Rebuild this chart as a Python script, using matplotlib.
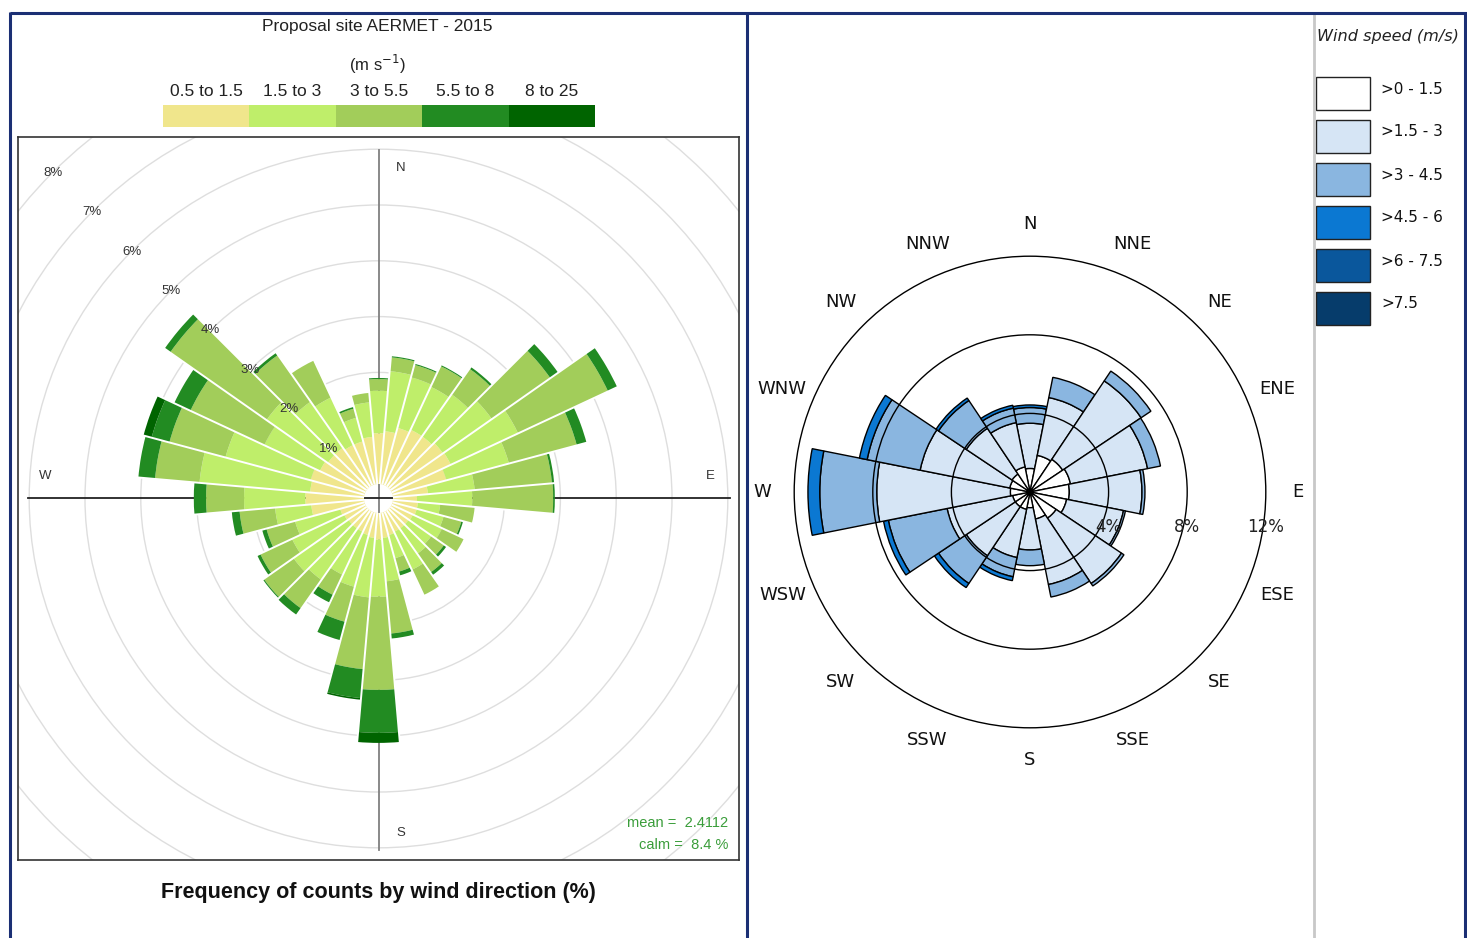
import math
import matplotlib
matplotlib.use("Agg")
import matplotlib.pyplot as plt
from matplotlib.patches import Wedge, Rectangle, Circle
from matplotlib.lines import Line2D

# ---------------- data ----------------
# Left rose: 36 sectors, frequency (%) per speed class
dir36 = list(range(10, 370, 10))
classes36 = ["0.5 to 1.5", "1.5 to 3", "3 to 5.5", "5.5 to 8", "8 to 25"]
colors36 = ["#F0E68C", "#BFEE6A", "#A2CD5A", "#228B22", "#006400"]
f_05_15 = [0.95, 1.05, 1.10, 1.10, 1.15, 1.17, 1.00, 0.63, 0.43, 0.45, 0.45, 0.42,
           0.40, 0.40, 0.40, 0.42, 0.45, 0.48, 0.45, 0.42, 0.40, 0.40, 0.40, 0.42,
           0.45, 0.95, 1.05, 0.97, 1.00, 0.90, 0.85, 0.85, 0.80, 0.80, 0.85, 0.91]
f_15_3 = [1.08, 0.94, 0.85, 0.92, 1.07, 1.33, 1.16, 0.84, 0.99, 0.40, 0.50, 0.58,
          0.50, 0.55, 0.75, 0.43, 0.78, 1.02, 1.07, 0.96, 0.85, 1.12, 1.20, 1.03,
          0.84, 0.65, 1.10, 1.99, 1.58, 1.10, 1.34, 1.01, 0.94, 0.44, 0.62, 0.76]
f_3_55 = [0.25, 0.23, 0.41, 0.56, 1.28, 1.78, 1.26, 1.39, 1.45, 0.62, 0.33, 0.43,
          0.28, 0.41, 0.50, 0.25, 0.94, 1.67, 1.29, 0.65, 0.40, 0.63, 0.65, 0.63,
          0.53, 0.64, 0.68, 0.80, 1.04, 1.46, 2.11, 1.02, 0.73, 0.17, 0.17, 0.21]
f_55_8 = [0.02, 0.02, 0.02, 0.04, 0.17, 0.18, 0.18, 0.04, 0.03, 0.00, 0.03, 0.00,
          0.05, 0.06, 0.00, 0.07, 0.09, 0.77, 0.52, 0.34, 0.15, 0.14, 0.02, 0.06,
          0.08, 0.14, 0.22, 0.30, 0.33, 0.32, 0.12, 0.05, 0.00, 0.03, 0.00, 0.02]
f_8_25 = [0.00, 0.00, 0.00, 0.00, 0.00, 0.00, 0.00, 0.00, 0.00, 0.00, 0.00, 0.00,
          0.00, 0.00, 0.00, 0.00, 0.00, 0.18, 0.03, 0.00, 0.00, 0.00, 0.00, 0.00,
          0.00, 0.00, 0.00, 0.00, 0.15, 0.00, 0.00, 0.00, 0.00, 0.00, 0.00, 0.00]
mean_speed = 2.4112
calm_pct = 8.4
ring_pcts36 = [1, 2, 3, 4, 5, 6, 7, 8]

# Right rose: 16 sectors, frequency (%) per speed class
dir16 = ["N", "NNE", "NE", "ENE", "E", "ESE", "SE", "SSE",
         "S", "SSW", "SW", "WSW", "W", "WNW", "NW", "NNW"]
classes16 = [">0 - 1.5", ">1.5 - 3", ">3 - 4.5", ">4.5 - 6", ">6 - 7.5", ">7.5"]
colors16 = ["#FFFFFF", "#D6E5F5", "#8AB6E0", "#0B78D2", "#0A579C", "#063C6B"]
b_0_15 = [1.20, 1.90, 2.00, 2.10, 2.00, 1.90, 1.60, 1.40,
          0.80, 0.90, 0.90, 0.90, 1.00, 1.05, 1.10, 1.30]
b_15_3 = [2.30, 3.00, 4.80, 4.00, 3.70, 2.95, 4.00, 3.40,
          2.15, 2.50, 3.00, 3.40, 6.80, 4.65, 2.80, 2.30]
b_3_45 = [0.80, 1.05, 0.60, 0.67, 0.15, 0.10, 0.15, 0.65,
          0.80, 1.00, 1.70, 3.05, 2.90, 2.75, 1.70, 0.75]
b_45_6 = [0.13, 0.00, 0.00, 0.00, 0.00, 0.00, 0.00, 0.00,
          0.00, 0.20, 0.25, 0.25, 0.60, 0.40, 0.15, 0.15]
b_6_75 = [0.0] * 16
b_75 = [0.0] * 16
ring_pcts16 = [4, 8, 12]

# ---------------- figure ----------------
W_PX, H_PX = 1467, 938
fig = plt.figure(figsize=(W_PX / 100, H_PX / 100), dpi=100)
FONT_L = ["Liberation Sans", "DejaVu Sans"]
FONT_R = ["DejaVu Sans"]


def fx(px):
    return px / W_PX


def fy(py):
    return 1 - py / H_PX


def add_axes_px(x0, y0, x1, y1):
    return fig.add_axes([fx(x0), fy(y1), fx(x1) - fx(x0), fy(y0) - fy(y1)])


# ---------------- left rose ----------------
L_BOX = (18, 137, 739, 860)
L_CX, L_CY = 378.5, 498.5
L_SCALE = 55.8          # px per percent
hole = 0.26             # radius of the calm circle, in percent units

ax1 = add_axes_px(*L_BOX)
ax1.set_xlim((L_BOX[0] - L_CX) / L_SCALE, (L_BOX[2] - L_CX) / L_SCALE)
ax1.set_ylim((L_CY - L_BOX[3]) / L_SCALE, (L_CY - L_BOX[1]) / L_SCALE)
ax1.set_xticks([])
ax1.set_yticks([])
for sp in ax1.spines.values():
    sp.set_color("#333333")
    sp.set_linewidth(1.2)

for k in ring_pcts36:
    ax1.add_patch(Circle((0, 0), hole + k, fill=False, ec="#dedede", lw=1.0, zorder=1))

ax1.plot([0, 0], [-6.3, 6.25], color="#808080", lw=1.3, zorder=1)
ax1.plot([-6.28, 6.3], [0, 0], color="#222222", lw=1.3, zorder=1)

series36 = [f_05_15, f_15_3, f_3_55, f_55_8, f_8_25]
totals36 = []
for i, d in enumerate(dir36):
    base = hole
    for vals, col in zip(series36, colors36):
        v = vals[i]
        if v > 0:
            ax1.add_patch(Wedge((0, 0), base + v, 90 - d - 5, 90 - d + 5, width=v,
                                fc=col, ec="none", zorder=2))
        base += v
    totals36.append(base)

# thin white gaps between neighbouring sectors
for i, d in enumerate(dir36):
    j = (i + 1) % len(dir36)
    ang = math.radians(90 - (d + 5))
    r_end = max(totals36[i], totals36[j]) + 0.03
    ax1.plot([hole * math.cos(ang), r_end * math.cos(ang)],
             [hole * math.sin(ang), r_end * math.sin(ang)],
             color="white", lw=1.4, zorder=3, solid_capstyle="butt")

for k in ring_pcts36:
    r = hole + k
    a = math.radians(135)
    ax1.text(r * math.cos(a), r * math.sin(a), f"{k}%", fontsize=9.5,
             family=FONT_L, color="#333333", ha="center", va="center", zorder=4)

for lab, (x, y) in zip(["N", "S", "W", "E"],
                       [(0.40, 5.92), (0.40, -5.99), (-5.98, 0.40), (5.94, 0.40)]):
    ax1.text(x, y, lab, fontsize=9.5, family=FONT_L, color="#333333",
             ha="center", va="center")

fig.text(fx(728), fy(823), f"mean =  {mean_speed}", fontsize=10.5, family=FONT_L,
         color="#3A9D3A", ha="right", va="center")
fig.text(fx(728), fy(845), f"calm =  {calm_pct} %", fontsize=10.5, family=FONT_L,
         color="#3A9D3A", ha="right", va="center")

# title and colour key
fig.text(fx(377), fy(27), "Proposal site AERMET - 2015", fontsize=12.5, family=FONT_L,
         color="#222222", ha="center", va="center")
fig.text(fx(377), fy(64), r"(m s$^{-1}$)", fontsize=12, family=FONT_L,
         color="#222222", ha="center", va="center")
key_x0, key_w = 163, 86.4
for i, (lab, col) in enumerate(zip(classes36, colors36)):
    x0 = key_x0 + i * key_w
    fig.add_artist(Rectangle((fx(x0), fy(127)), fx(key_w), fy(105) - fy(127),
                             transform=fig.transFigure, fc=col, ec="none"))
    fig.text(fx(x0 + key_w / 2), fy(91), lab, fontsize=12.5, family=FONT_L,
             color="#222222", ha="center", va="center")

fig.text(fx(378), fy(892), "Frequency of counts by wind direction (%)", fontsize=15.5,
         family=FONT_L, weight="bold", color="#111111", ha="center", va="center")

# ---------------- right rose ----------------
R_CX, R_CY = 1030, 492
R_SCALE = 19.65
R_BOX = (750, 14, 1310, 938)
ax2 = add_axes_px(*R_BOX)
ax2.set_xlim((R_BOX[0] - R_CX) / R_SCALE, (R_BOX[2] - R_CX) / R_SCALE)
ax2.set_ylim((R_CY - R_BOX[3]) / R_SCALE, (R_CY - R_BOX[1]) / R_SCALE)
ax2.axis("off")

series16 = [b_0_15, b_15_3, b_3_45, b_45_6, b_6_75, b_75]
for i, name in enumerate(dir16):
    d = i * 22.5
    base = 0.0
    for vals, col in zip(series16, colors16):
        v = vals[i]
        if v > 0:
            ax2.add_patch(Wedge((0, 0), base + v, 90 - d - 11.25, 90 - d + 11.25, width=v,
                                fc=col, ec="black", lw=1.0, zorder=2))
        base += v

for k in ring_pcts16:
    ax2.add_patch(Circle((0, 0), k, fill=False, ec="black", lw=1.0, zorder=4))
    ax2.text(k, -1.78, f"{k}%", fontsize=12, family=FONT_R, color="#222222",
             ha="center", va="center", zorder=5)

lab_r = 13.64
for i, name in enumerate(dir16):
    a = math.radians(90 - i * 22.5)
    ax2.text(lab_r * math.cos(a), lab_r * math.sin(a), name, fontsize=13,
             family=FONT_R, color="#111111", ha="center", va="center")

# legend
fig.text(fx(1317), fy(36), "Wind speed (m/s)", fontsize=11.6, family=FONT_R,
         style="italic", color="#222222", ha="left", va="center")
for i, (lab, col) in enumerate(zip(classes16, colors16)):
    y0 = 77 + i * 43
    fig.add_artist(Rectangle((fx(1316), fy(y0 + 33)), fx(54), fy(y0) - fy(y0 + 33),
                             transform=fig.transFigure, fc=col, ec="#222222", lw=1.0))
    fig.text(fx(1381), fy(y0 + 12), lab, fontsize=11, family=FONT_R,
             color="#111111", ha="left", va="center")

# ---------------- frames ----------------
navy = "#1B2F74"


def fline(x0, y0, x1, y1, color, lw):
    fig.add_artist(Line2D([fx(x0), fx(x1)], [fy(y0), fy(y1)], transform=fig.transFigure,
                          color=color, lw=lw, solid_capstyle="butt"))


fline(1314, 14, 1314, 938, "#c8c8c8", 2.0)
fline(10, 13, 1467, 13, navy, 2.2)
fline(10, 12, 10, 938, navy, 2.2)
fline(747, 12, 747, 938, navy, 2.2)
fline(1465, 12, 1465, 938, navy, 2.2)

fig.savefig("out.png", dpi=100)
